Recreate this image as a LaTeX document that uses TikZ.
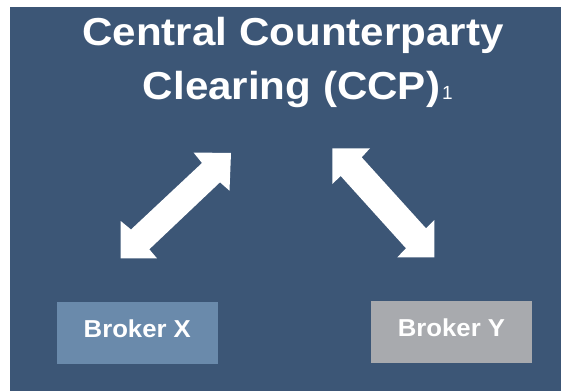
\documentclass[tikz,border=0pt]{standalone}
\usepackage{fontspec}
\setmainfont{Liberation Sans}
\usepackage{graphicx}
\definecolor{panelblue}{RGB}{60,86,118}
\definecolor{brokerxblue}{RGB}{106,138,171}
\definecolor{brokerygrey}{RGB}{168,170,174}
\tikzset{
  titletext/.style={text=white, inner sep=0pt, font=\fontsize{39}{45}\selectfont\bfseries},
  notetext/.style={text=white, inner sep=0pt, font=\fontsize{19}{22}\selectfont},
  brokerbox/.style={text=white, inner sep=0pt, minimum width=161pt, minimum height=61.7pt,
    text depth=8pt, font=\fontsize{24.5}{28}\selectfont\bfseries},
  bigarrow/.style={fill=white, draw=none}
}
\begin{document}
\begin{tikzpicture}[x=1pt,y=-1pt]
  \useasboundingbox (0,0) rectangle (562,391);
  \fill[white] (0,0) rectangle (562,391);
  % slide panel
  \fill[panelblue] (10,7) rectangle (561,391);

  % title
  \node[titletext, anchor=base] (title1) at (293,45) {\scalebox{1.08}[1]{Central Counterparty}};
  \node[titletext, anchor=base] (title2) at (291.5,99) {\scalebox{1.08}[1]{Clearing (CCP)}};
  \node[notetext, anchor=base west] (note) at ([xshift=1.5pt]title2.base east) {1};

  % brokers
  \node[brokerbox, fill=brokerxblue] (brokerx) at (137.3,332.9) {\scalebox{1.05}[1]{Broker X}};
  \node[brokerbox, fill=brokerygrey] (brokery) at (451.5,331.9) {\scalebox{1.05}[1]{Broker Y}};

  % double-headed block arrows
  \fill[bigarrow] (231,153) -- (193.5,152.5) -- (202,163) -- (131,229.5) -- (120.7,221)
    -- (120.7,258.3) -- (157,258.3) -- (149.3,249.3) -- (220,182.3) -- (229.5,190.7) -- cycle;
  \fill[bigarrow] (332.3,148.3) -- (370,148.3) -- (361.7,157.3) -- (426,228.3) -- (434.3,220)
    -- (434.3,257.3) -- (397.3,257.3) -- (406,248.3) -- (340.7,176) -- (332.3,184) -- cycle;
\end{tikzpicture}
\end{document}
